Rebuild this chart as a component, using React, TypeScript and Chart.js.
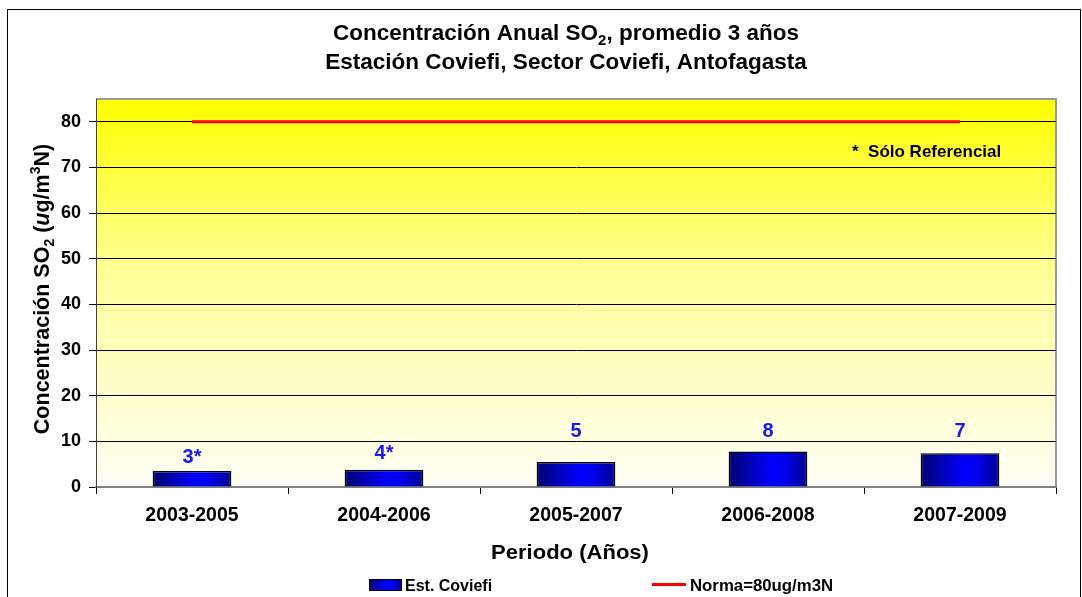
import { useEffect, useRef } from 'react';
import { Chart, registerables } from 'chart.js';

Chart.register(...registerables);

// ---------- data ----------
const categories = ['2003-2005', '2004-2006', '2005-2007', '2006-2008', '2007-2009'];
const concentration = [3.5, 3.8, 5.5, 7.8, 7.4];
const valueLabels = ['3*', '4*', '5', '8', '7'];
const norma = [80, 80, 80, 80, 80];
const yMin = 0;
const yMax = 85;
const yStep = 10;

const seriesName = 'Est. Coviefi';
const normaName = 'Norma=80ug/m3N';
const noteText = '*  Sólo Referencial';
const xTitle = 'Periodo (Años)';

// label anchors (value-axis units) where each bar label is centred
const labelAnchors = [6.4, 7.3, 12.2, 12.2, 12.2];

const FONT = "'Liberation Sans', Arial, sans-serif";
const BAR_PCT = 0.41;

type Run = { text: string; size: number; dy?: number; italic?: boolean };

function fontOf(r: Run) {
  return `${r.italic ? 'italic ' : ''}bold ${r.size}px ${FONT}`;
}

function drawRuns(ctx: CanvasRenderingContext2D, runs: Run[], x: number, y: number, align: 'left' | 'center', stretch = 1) {
  ctx.save();
  ctx.textAlign = 'left';
  ctx.textBaseline = 'alphabetic';
  let total = 0;
  for (const r of runs) {
    ctx.font = fontOf(r);
    total += ctx.measureText(r.text).width;
  }
  total *= stretch;
  const start = align === 'center' ? x - total / 2 : x;
  ctx.translate(start, y);
  ctx.scale(stretch, 1);
  let cx = 0;
  for (const r of runs) {
    ctx.font = fontOf(r);
    ctx.fillText(r.text, cx, r.dy || 0);
    cx += ctx.measureText(r.text).width;
  }
  ctx.restore();
}

function barGradient(ctx: CanvasRenderingContext2D, x0: number, x1: number) {
  const g = ctx.createLinearGradient(x0, 0, x1, 0);
  g.addColorStop(0, '#000070');
  g.addColorStop(0.55, '#0000FF');
  g.addColorStop(0.7, '#0000F0');
  g.addColorStop(1, '#000090');
  return g;
}

const decorPlugin = {
  id: 'decor',
  beforeDraw(chart: any) {
    const { ctx, chartArea: a } = chart;
    ctx.save();
    ctx.fillStyle = '#FFFFFF';
    ctx.fillRect(0, 0, chart.width, chart.height);
    // outer frame
    ctx.strokeStyle = '#000';
    ctx.lineWidth = 1;
    ctx.strokeRect(7.5, 9.5, 1073, 620);
    // plot background
    const g = ctx.createLinearGradient(0, a.top, 0, a.bottom);
    g.addColorStop(0, '#FFFF00');
    g.addColorStop(0.45, '#FFFF99');
    g.addColorStop(1, '#FFFFF6');
    ctx.fillStyle = g;
    ctx.fillRect(a.left, a.top, a.right - a.left, a.bottom - a.top);
    // top / right plot border
    ctx.strokeStyle = '#999999';
    ctx.lineWidth = 2;
    ctx.beginPath();
    ctx.moveTo(a.left, a.top);
    ctx.lineTo(a.right, a.top);
    ctx.lineTo(a.right, a.bottom);
    ctx.stroke();
    ctx.restore();
  },
  afterDraw(chart: any) {
    const { ctx, chartArea: a } = chart;
    ctx.save();
    ctx.fillStyle = '#000';
    // title
    drawRuns(ctx, [
      { text: 'Concentración Anual SO', size: 22.5 },
      { text: '2', size: 15, dy: 5 },
      { text: ', promedio 3 años', size: 22.5 },
    ], 566, 40, 'center');
    drawRuns(ctx, [{ text: 'Estación Coviefi, Sector Coviefi, Antofagasta', size: 22.5 }], 566, 69, 'center');

    // y title
    ctx.save();
    ctx.translate(49, 289);
    ctx.rotate(-Math.PI / 2);
    drawRuns(ctx, [
      { text: 'Concentración SO', size: 21.5 },
      { text: '2', size: 14, dy: 5 },
      { text: ' (', size: 21.5 },
      { text: 'u', size: 21.5, italic: true },
      { text: 'g/m', size: 21.5 },
      { text: '3', size: 14, dy: -9 },
      { text: 'N)', size: 21.5 },
    ], 0, 0, 'center');
    ctx.restore();

    // x title
    drawRuns(ctx, [{ text: xTitle, size: 19.5 }], 570, 559, 'center', 1.13);

    // note
    drawRuns(ctx, [{ text: noteText, size: 17 }], 852, 157, 'left');

    // value labels
    const meta = chart.getDatasetMeta(0);
    const ys = chart.scales.y;
    ctx.fillStyle = '#1515FF';
    ctx.font = `bold 20px ${FONT}`;
    ctx.textAlign = 'center';
    ctx.textBaseline = 'middle';
    meta.data.forEach((el: any, i: number) => {
      ctx.fillText(valueLabels[i], el.x, ys.getPixelForValue(labelAnchors[i]));
    });

    // legend
    const lx = 369, ly = 579;
    ctx.fillStyle = barGradient(ctx, lx, lx + 33);
    ctx.fillRect(lx, ly, 33, 12);
    ctx.strokeStyle = '#000';
    ctx.lineWidth = 1;
    ctx.strokeRect(lx + 0.5, ly + 0.5, 32, 11);
    ctx.fillStyle = '#000';
    drawRuns(ctx, [{ text: seriesName, size: 16 }], 405, 591, 'left');
    ctx.strokeStyle = '#FF0000';
    ctx.lineWidth = 3;
    ctx.beginPath();
    ctx.moveTo(652, 584.5);
    ctx.lineTo(686, 584.5);
    ctx.stroke();
    drawRuns(ctx, [{ text: normaName, size: 16.8 }], 690, 591, 'left');
    ctx.restore();
  },
};

export default function App() {
  const ref = useRef<HTMLCanvasElement | null>(null);
  useEffect(() => {
    if (!ref.current) return;
    const chart = new Chart(ref.current, {
      type: 'bar',
      data: {
        labels: categories,
        datasets: [
          {
            type: 'bar',
            label: seriesName,
            data: concentration,
            backgroundColor: (c: any) => {
              const ch = c.chart;
              const a = ch.chartArea;
              if (!a || c.dataIndex === undefined) return '#0000FF';
              const cx = ch.scales.x.getPixelForValue(c.dataIndex);
              const w = ((a.right - a.left) / categories.length) * BAR_PCT;
              return barGradient(ch.ctx, cx - w / 2, cx + w / 2);
            },
            borderColor: '#000',
            borderWidth: 1.5,
            barPercentage: BAR_PCT,
            categoryPercentage: 1,
            order: 2,
          } as any,
          {
            type: 'line',
            label: normaName,
            data: norma,
            borderColor: '#FF0000',
            borderWidth: 3,
            pointRadius: 0,
            fill: false,
            order: 1,
          } as any,
        ],
      },
      options: {
        responsive: false,
        animation: false,
        devicePixelRatio: 1,
        layout: { padding: { left: 56, top: 99, right: 26, bottom: 0 } },
        plugins: {
          legend: { display: false },
          title: { display: false },
          tooltip: { enabled: false },
        },
        scales: {
          x: {
            type: 'category',
            offset: true,
            afterFit: (s: any) => { s.height = 110; },
            grid: {
              offset: true,
              drawOnChartArea: false,
              drawTicks: true,
              tickLength: 7,
              color: '#000',
            },
            border: { color: '#808080', width: 2 },
            ticks: {
              color: '#000',
              padding: 10,
              font: { family: FONT, size: 19.5, weight: 'bold' },
              maxRotation: 0,
            },
          },
          y: {
            type: 'linear',
            min: yMin,
            max: yMax,
            afterFit: (s: any) => { s.width = 40; },
            grid: {
              color: (c: any) => (c.tick && c.tick.value === 0 ? 'rgba(0,0,0,0)' : '#000'),
              tickColor: '#000',
              tickLength: 7,
              lineWidth: 1,
            },
            border: { color: '#404040', width: 1 },
            ticks: {
              stepSize: yStep,
              includeBounds: false,
              color: '#000',
              padding: 8,
              font: { family: FONT, size: 18, weight: 'bold' },
            },
          },
        },
      },
      plugins: [decorPlugin],
    });
    return () => chart.destroy();
  }, []);
  return (
    <div style={{ position: 'fixed', left: 0, top: 0, width: 1082, height: 597 }}>
      <canvas ref={ref} width={1082} height={597} style={{ display: 'block' }} />
    </div>
  );
}
